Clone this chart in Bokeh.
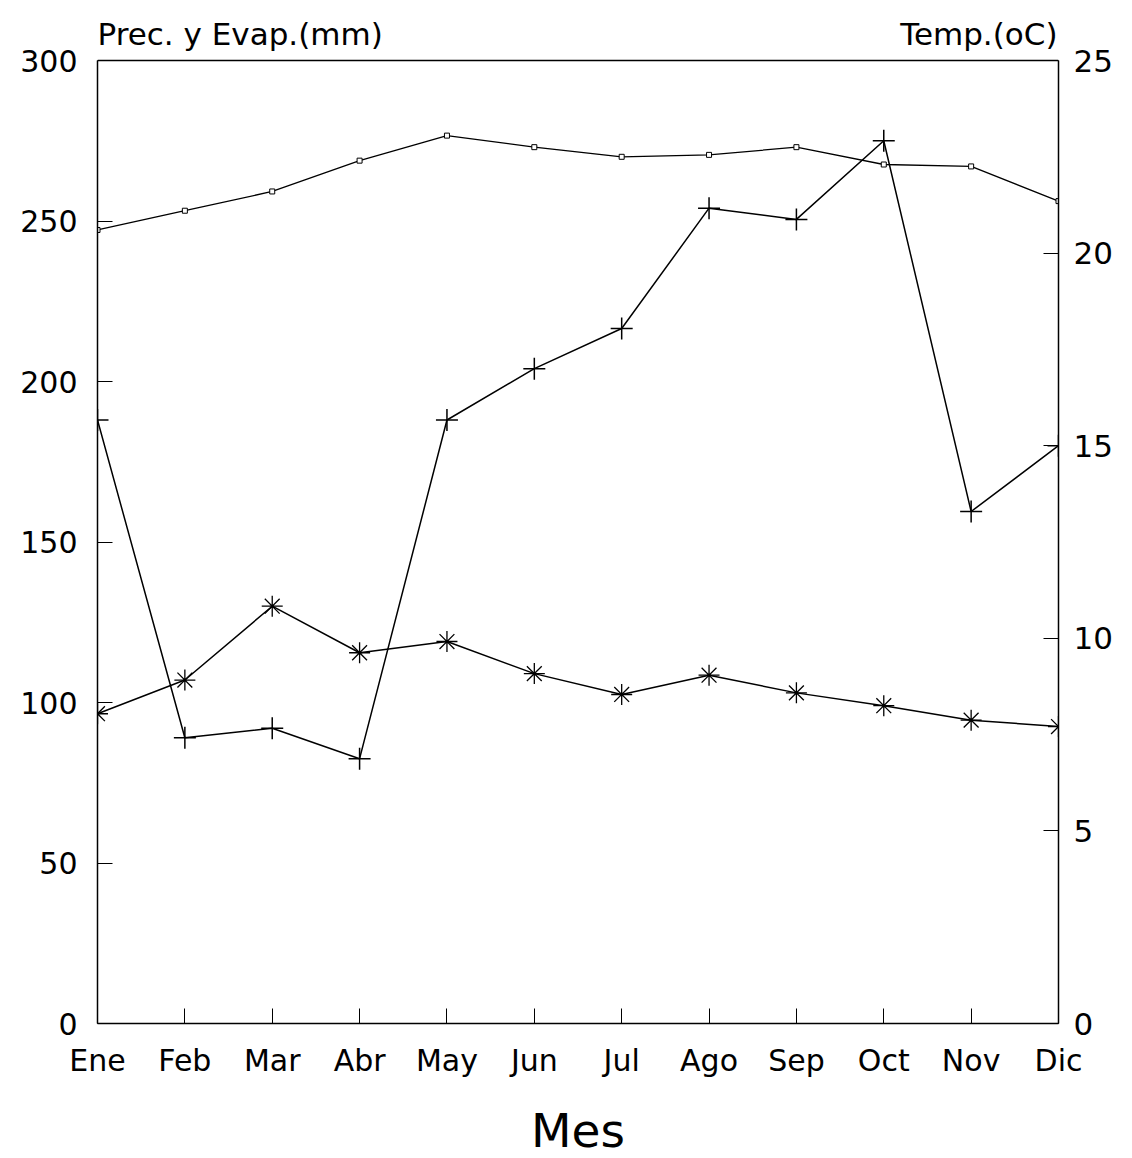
from bokeh.plotting import figure
from bokeh.models import Range1d, LinearAxis, FixedTicker, Label
from bokeh.embed import file_html
from bokeh.resources import INLINE

months = ["Ene", "Feb", "Mar", "Abr", "May", "Jun", "Jul", "Ago", "Sep", "Oct", "Nov", "Dic"]
temperatura = [20.6, 21.1, 21.6, 22.4, 23.05, 22.75, 22.5, 22.55, 22.75, 22.3, 22.25, 21.35]
precipitacion = [188, 89, 92, 82.5, 188, 204, 216.5, 254, 250.5, 275, 159.5, 180]
evaporacion = [96.5, 107, 130, 115.5, 119, 109, 102.5, 108.5, 103, 99, 94.5, 92.5]
left_ticks = [0, 50, 100, 150, 200, 250, 300]
right_ticks = [0, 5, 10, 15, 20, 25]

FONT = "DejaVu Sans"
x = list(range(len(months)))

# layout (pixels): frame spans from canvas top down to the x axis; the drawn box
# (0..300) starts 60px below the canvas top, leaving room for the axis titles
FRAME_H = 1023
BOX_H = 963
ext = FRAME_H / BOX_H

p = figure(frame_width=961, frame_height=FRAME_H, output_backend="svg", toolbar_location=None,
           x_range=Range1d(0, len(months) - 1),
           y_range=Range1d(0, left_ticks[-1] * ext),
           min_border_left=97, min_border_right=66, min_border_top=0, min_border_bottom=0)
p.extra_y_ranges = {"temp": Range1d(0, right_ticks[-1] * ext)}
p.grid.visible = False
p.outline_line_color = None
p.background_fill_color = "white"
p.border_fill_color = "white"

# top edge of the box
p.segment(x0=[x[0]], y0=[left_ticks[-1]], x1=[x[-1]], y1=[left_ticks[-1]],
          line_color="black", line_width=1.5)

# lines and markers
p.line(x, precipitacion, line_color="black", line_width=1.5)
p.scatter(x, precipitacion, marker="cross", size=22, line_color="black", line_width=1.5)
p.line(x, evaporacion, line_color="black", line_width=1.5)
p.scatter(x, evaporacion, marker="asterisk", size=21, line_color="black", line_width=1.3)
p.line(x, temperatura, line_color="black", line_width=1.3, y_range_name="temp")
p.scatter(x, temperatura, marker="square", size=5, fill_color="white", line_color="black",
          line_width=1, y_range_name="temp")

# x axis
xa = p.xaxis[0]
xa.ticker = FixedTicker(ticks=x)
xa.major_label_overrides = {i: m for i, m in enumerate(months)}
xa.major_tick_in = 15
xa.major_tick_out = 0
xa.minor_tick_line_color = None
xa.major_label_text_font = FONT
xa.major_label_text_font_size = "30px"
xa.major_label_text_color = "black"
xa.major_label_standoff = 19
xa.axis_label = "Mes"
xa.axis_label_text_font = FONT
xa.axis_label_text_font_size = "47px"
xa.axis_label_text_font_style = "normal"
xa.axis_label_text_color = "black"
xa.axis_label_standoff = 22
xa.axis_line_width = 1.5

# left axis
ya = p.yaxis[0]
ya.ticker = FixedTicker(ticks=left_ticks)
ya.bounds = (left_ticks[0], left_ticks[-1])
ya.major_tick_in = 15
ya.major_tick_out = 0
ya.minor_tick_line_color = None
ya.major_label_text_font = FONT
ya.major_label_text_font_size = "30px"
ya.major_label_text_color = "black"
ya.major_label_standoff = 20
ya.axis_line_width = 1.5

# right axis
ra = LinearAxis(y_range_name="temp", ticker=FixedTicker(ticks=right_ticks),
                bounds=(right_ticks[0], right_ticks[-1]))
ra.major_tick_in = 15
ra.major_tick_out = 0
ra.minor_tick_line_color = None
ra.major_label_text_font = FONT
ra.major_label_text_font_size = "31px"
ra.major_label_text_color = "black"
ra.major_label_standoff = 15
ra.axis_line_width = 1.5
p.add_layout(ra, "right")

# axis titles (inside the frame, above the box)
p.add_layout(Label(x=0, y=left_ticks[-1], x_offset=0, y_offset=27, text="Prec. y Evap.(mm)",
                   text_font=FONT, text_font_size="31px", text_align="left",
                   text_baseline="alphabetic", text_color="black"))
p.add_layout(Label(x=len(months) - 1, y=left_ticks[-1], x_offset=-1, y_offset=27,
                   text="Temp.(oC)",
                   text_font=FONT, text_font_size="31px", text_align="right",
                   text_baseline="alphabetic", text_color="black"))

open("out.html", "w").write(file_html(p, INLINE))
